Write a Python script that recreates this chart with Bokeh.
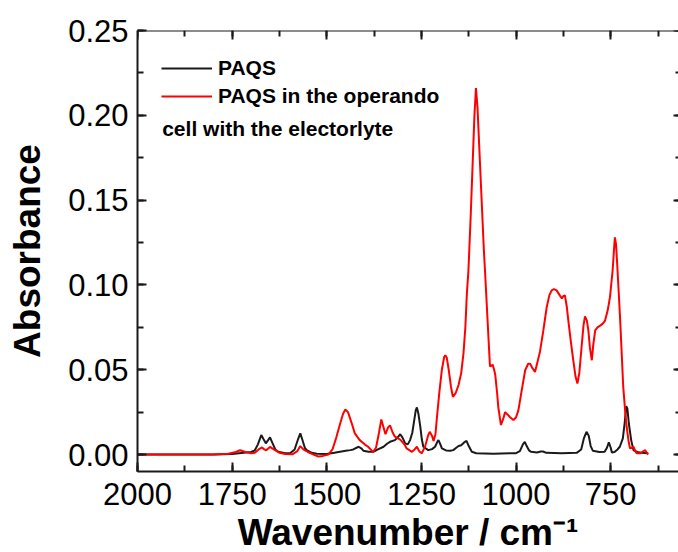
from bokeh.plotting import figure
from bokeh.models import (Range1d, LinearAxis, Legend, LegendItem, Label,
                          SingleIntervalTicker, NumeralTickFormatter, CustomJSTickFormatter)
from bokeh.embed import file_html
from bokeh.resources import INLINE

# ---- data ----
paqs_wn = [2000, 1800, 1750, 1720, 1700, 1690, 1682, 1673, 1667, 1661, 1655, 1650, 1644, 1636,
           1628, 1610, 1597, 1585, 1576, 1570, 1565, 1558, 1553, 1540, 1526, 1500, 1480, 1465,
           1450, 1438, 1430, 1416, 1408, 1403, 1390, 1377, 1365, 1350, 1340, 1333, 1320, 1313,
           1306, 1300, 1293, 1286, 1280, 1274, 1269, 1265, 1262, 1258, 1253, 1249, 1245, 1232,
           1222, 1214, 1208, 1205, 1200, 1196, 1185, 1174, 1166, 1158, 1152, 1145, 1138, 1131,
           1125, 1117, 1105, 1060, 1000, 990, 982, 977, 972, 966, 960, 945, 935, 929, 920, 880,
           840, 828, 821, 814, 808, 803, 797, 780, 766, 760, 755, 750, 747, 740, 732, 726, 718,
           713, 709, 706, 702, 696, 690, 680, 670, 651]
paqs_abs = [0.0, 0.0, 0.0003, 0.001, 0.0015, 0.0025, 0.006, 0.0115, 0.009, 0.0066, 0.0085, 0.0101,
            0.007, 0.003, 0.0016, 0.0008, 0.0008, 0.003, 0.009, 0.0125, 0.009, 0.004, 0.0026,
            0.001, 0.0005, 0.0003, 0.001, 0.0017, 0.0022, 0.0026, 0.003, 0.0046, 0.0035, 0.0022,
            0.0016, 0.0016, 0.003, 0.0046, 0.0065, 0.0075, 0.0085, 0.010, 0.012, 0.010, 0.0066,
            0.006, 0.0085, 0.013, 0.0203, 0.026, 0.0278, 0.024, 0.0164, 0.009, 0.0046, 0.0026,
            0.0032, 0.0046, 0.0075, 0.0085, 0.006, 0.0036, 0.0024, 0.0022, 0.0026, 0.004, 0.005,
            0.0055, 0.007, 0.0081, 0.005, 0.0016, 0.0008, 0.0005, 0.0008, 0.002, 0.006, 0.0075,
            0.005, 0.0025, 0.0016, 0.0012, 0.0018, 0.0018, 0.001, 0.0008, 0.001, 0.003, 0.0095,
            0.0134, 0.011, 0.005, 0.0022, 0.0015, 0.0016, 0.004, 0.0072, 0.004, 0.0012, 0.0015,
            0.003, 0.0046, 0.0095, 0.019, 0.0285, 0.027, 0.018, 0.0085, 0.0026, 0.0015, 0.001,
            0.0007]

cell_wn = [2000, 1900, 1800, 1760, 1740, 1729, 1715, 1700, 1690, 1680, 1671, 1665, 1660, 1650,
           1640, 1625, 1610, 1590, 1578, 1570, 1562, 1550, 1535, 1522, 1510, 1496, 1485, 1475,
           1465, 1457, 1451, 1444, 1435, 1426, 1413, 1400, 1391, 1378, 1370, 1362, 1356, 1350,
           1345, 1338, 1333, 1326, 1320, 1306, 1295, 1289, 1275, 1268, 1262, 1256, 1249, 1240,
           1232, 1228, 1222, 1218, 1213, 1209, 1203, 1196, 1190, 1187, 1183, 1178, 1172, 1167,
           1160, 1152, 1145, 1139, 1134, 1130, 1126, 1120, 1115, 1110, 1106, 1102, 1096, 1090,
           1085, 1082, 1073, 1069, 1064, 1062, 1058, 1055, 1050, 1047, 1040, 1034, 1029, 1022,
           1016, 1007, 1000, 994, 985, 976, 968, 963, 957, 950, 943, 937, 928, 919, 912, 906,
           900, 893, 885, 879, 875, 871, 866, 862, 855, 849, 843, 838, 833, 827, 822, 818, 813,
           809, 805, 800, 796, 791, 785, 778, 771, 765, 758, 752, 745, 741, 739, 736, 733, 729,
           725, 717, 712, 708, 703, 699, 694, 690, 685, 681, 673, 665, 659, 655, 651]
cell_abs = [0.0, 0.0, 0.0, 0.0005, 0.0015, 0.0025, 0.0015, 0.0008, 0.001, 0.003, 0.0042, 0.003,
            0.0025, 0.0045, 0.003, 0.001, 0.0003, 0.0002, 0.002, 0.005, 0.003, 0.0015, 0.0,
            -0.0012, -0.0008, 0.0, 0.003, 0.01, 0.018, 0.024, 0.0265, 0.025, 0.019, 0.0125,
            0.0085, 0.006, 0.0046, 0.0016, 0.004, 0.013, 0.0207, 0.016, 0.012, 0.016, 0.0172,
            0.013, 0.0105, 0.0088, 0.006, 0.0036, 0.0016, 0.003, 0.0046, 0.002, 0.0007, 0.005,
            0.0115, 0.0134, 0.011, 0.008, 0.012, 0.022, 0.036, 0.05, 0.0575, 0.0585, 0.057, 0.05,
            0.04, 0.034, 0.036, 0.041, 0.048, 0.0595, 0.075, 0.095, 0.108, 0.14, 0.17, 0.200,
            0.216, 0.205, 0.175, 0.145, 0.12, 0.108, 0.069, 0.052, 0.0525, 0.053, 0.05, 0.047,
            0.036, 0.028, 0.0174, 0.021, 0.025, 0.0235, 0.022, 0.0203, 0.022, 0.026, 0.038,
            0.0497, 0.0535, 0.0536, 0.051, 0.0487, 0.055, 0.0605, 0.0732, 0.087, 0.094, 0.0968,
            0.0975, 0.0968, 0.094, 0.092, 0.0935, 0.0938, 0.087, 0.079, 0.066, 0.0556, 0.046,
            0.0419, 0.048, 0.0634, 0.076, 0.0815, 0.079, 0.073, 0.063, 0.0556, 0.065, 0.0732,
            0.075, 0.076, 0.0772, 0.079, 0.085, 0.0928, 0.1085, 0.122, 0.128, 0.124, 0.1125,
            0.096, 0.079, 0.04, 0.026, 0.0164, 0.008, 0.0036, 0.004, 0.0046, 0.002, 0.0007,
            0.0007, 0.0018, 0.0026, 0.001, 0.0]

series_labels = ["PAQS", "PAQS in the operando", "cell with the electorlyte"]
x_title = "Wavenumber / cm\u207b\u00b9"
y_title = "Absorbance"

X0, X1 = 2000, 571
Y0, Y1 = -0.01, 0.25

FONT = "Liberation Sans"
AX = "#1a1a1a"

p = figure(frame_width=541, frame_height=441, output_backend="svg", toolbar_location=None,
           x_range=Range1d(X0, X1), y_range=Range1d(Y0, Y1),
           min_border_left=137, min_border_right=0, min_border_top=30, min_border_bottom=81)
p.xgrid.grid_line_color = None
p.ygrid.grid_line_color = None
p.outline_line_color = None
p.background_fill_color = "white"
p.border_fill_color = "white"

rb = p.line(paqs_wn, paqs_abs, line_color="#1a1a1a", line_width=2)
rr = p.line(cell_wn, cell_abs, line_color="#ff0000", line_width=2)


def style(ax, show):
    ax.axis_line_color = AX
    ax.axis_line_width = 2
    ax.major_tick_line_color = AX
    ax.major_tick_line_width = 2
    ax.minor_tick_line_color = AX
    ax.minor_tick_line_width = 2
    ax.major_tick_in = 9
    ax.major_tick_out = 0
    ax.minor_tick_in = 6
    ax.minor_tick_out = 0
    if show:
        ax.major_label_text_font = FONT
        ax.major_label_text_font_size = "31px"
        ax.major_label_text_color = "black"
        ax.axis_label_text_font = FONT
        ax.axis_label_text_font_size = "37px"
        ax.axis_label_text_font_style = "bold"
        ax.axis_label_text_color = "black"
    else:
        ax.axis_label = None
        ax.formatter = CustomJSTickFormatter(code="return ''")
        ax.major_label_text_font_size = "1px"
        ax.major_label_text_color = None
        ax.major_label_text_alpha = 0
        ax.major_label_standoff = 0


xa = p.xaxis[0]
xa.ticker = SingleIntervalTicker(interval=250, num_minor_ticks=2)
xa.axis_label = x_title
style(xa, True)
xa.major_label_standoff = 11
xa.axis_label_standoff = 4

ya = p.yaxis[0]
ya.ticker = SingleIntervalTicker(interval=0.05, num_minor_ticks=2)
ya.formatter = NumeralTickFormatter(format="0.00")
ya.axis_label = y_title
style(ya, True)
ya.major_label_standoff = 9
ya.axis_label_standoff = 17

# frame-edge axes: pinned to the range ends so they take no border space
top = LinearAxis(ticker=SingleIntervalTicker(interval=250, num_minor_ticks=2), fixed_location=Y1)
style(top, False)
p.add_layout(top, "above")
right = LinearAxis(ticker=SingleIntervalTicker(interval=0.05, num_minor_ticks=2), fixed_location=X1)
style(right, False)
right.axis_line_color = None   # in the reference the right spine lies just past the cropped edge
right.major_tick_in = 5
right.minor_tick_in = 3
p.add_layout(right, "right")

legend = Legend(items=[LegendItem(label=series_labels[0], renderers=[rb]),
                       LegendItem(label=series_labels[1], renderers=[rr])],
                location="top_left", border_line_color=None, background_fill_alpha=0,
                label_text_font=FONT, label_text_font_style="bold",
                label_text_font_size="21px", label_text_color="black",
                glyph_width=51, glyph_height=28, label_height=28, label_standoff=6,
                spacing=0, padding=10, margin=24)
p.add_layout(legend)

p.add_layout(Label(x=1934.8, y=0.192, text=series_labels[2], text_font=FONT,
                   text_font_style="bold", text_font_size="21px", text_color="black",
                   text_baseline="middle", text_align="left"))

open("out.html", "w").write(file_html(p, INLINE))
